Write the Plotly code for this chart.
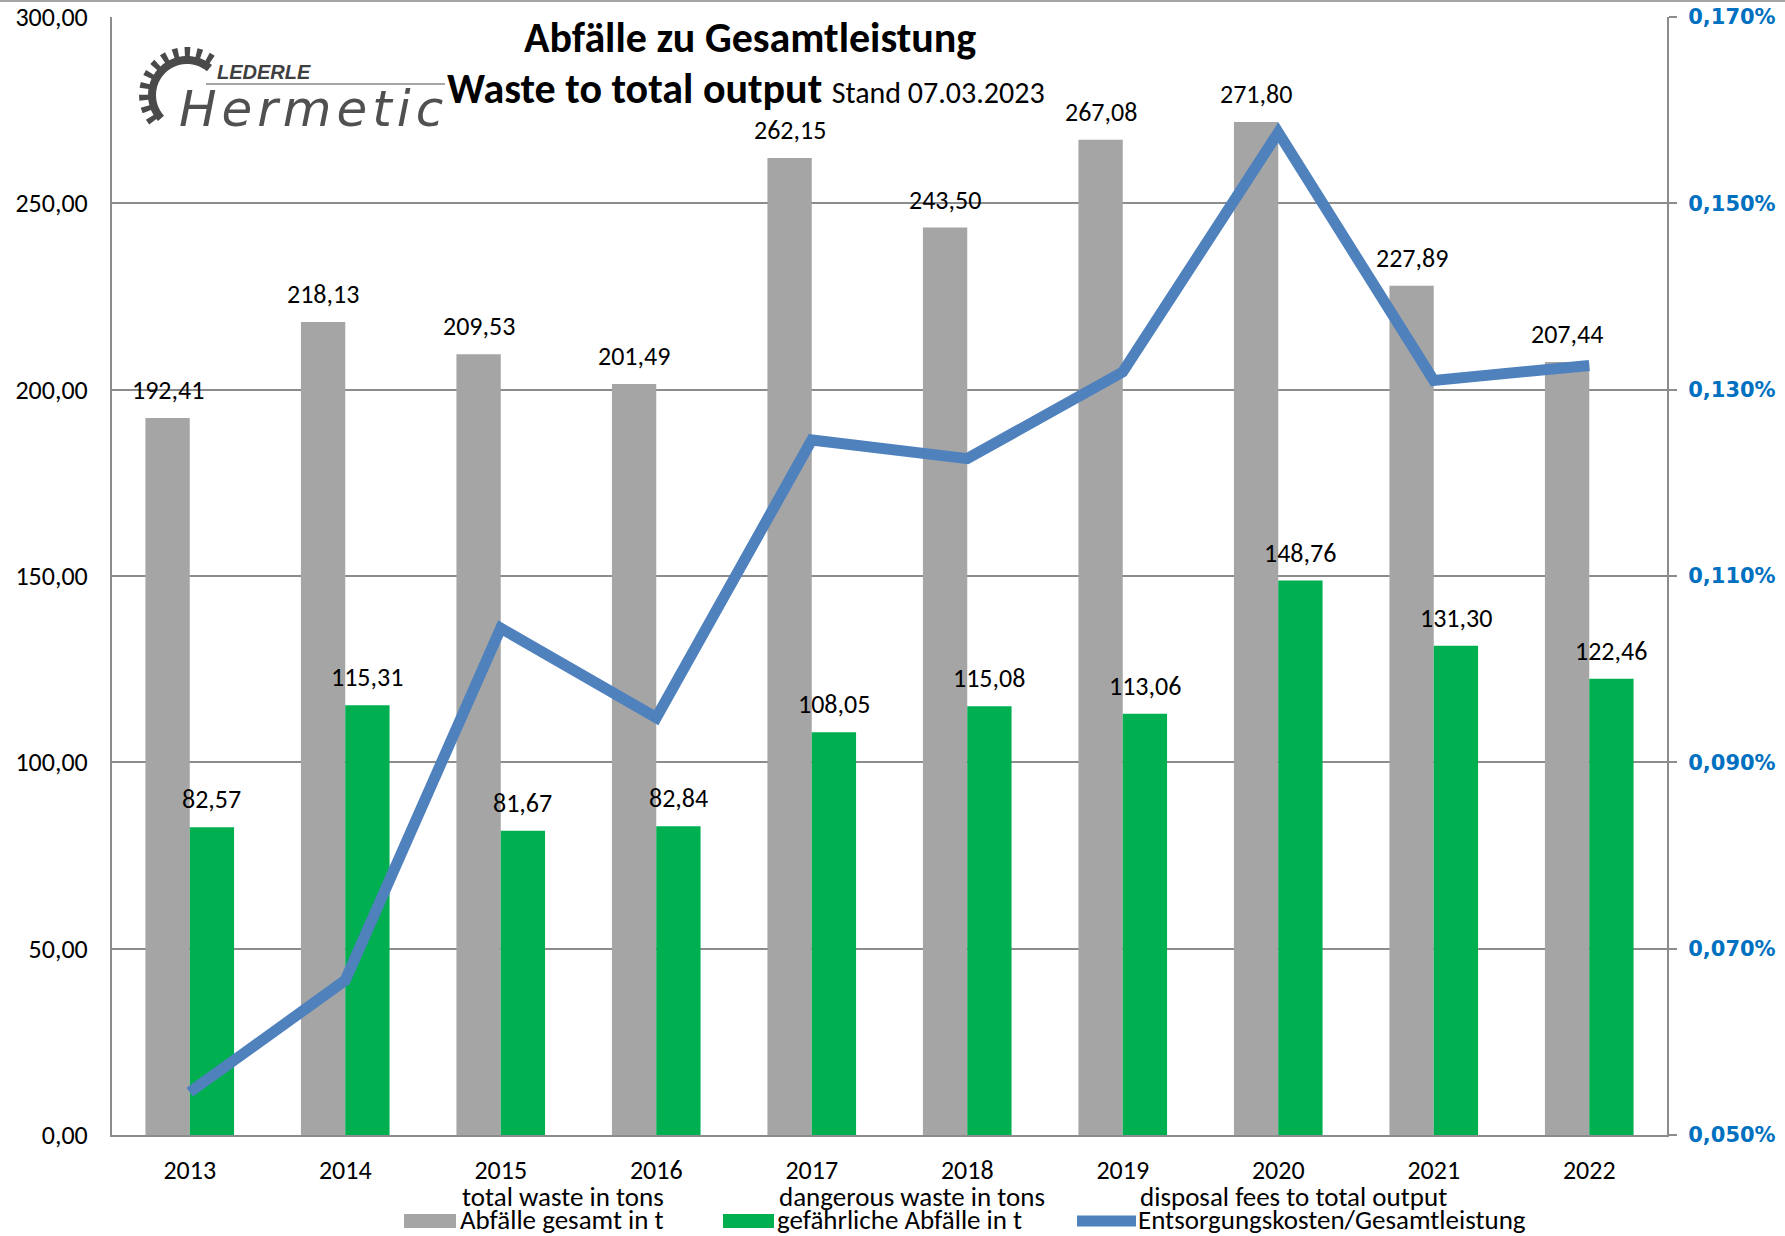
import numpy as np
import plotly.graph_objects as go

years = ["2013", "2014", "2015", "2016", "2017", "2018", "2019", "2020", "2021", "2022"]
total_waste = [192.41, 218.13, 209.53, 201.49, 262.15, 243.50, 267.08, 271.80, 227.89, 207.44]
dangerous_waste = [82.57, 115.31, 81.67, 82.84, 108.05, 115.08, 113.06, 148.76, 131.30, 122.46]
fees_ratio_pct = [0.0546, 0.0666, 0.1044, 0.0948, 0.1246, 0.1226, 0.1319, 0.1576, 0.1310, 0.1326]

name_total = "Abfälle gesamt in t"
name_danger = "gefährliche Abfälle in t"
name_fees = "Entsorgungskosten/Gesamtleistung"
sub_total = "total waste in tons"
sub_danger = "dangerous waste in tons"
sub_fees = "disposal fees to total output"

W, H = 1785, 1236
ML, MR, MT, MB = 112, 118, 17, 101
PW, PH = W - ML - MR, H - MT - MB

def px(x):
    return (x - ML) / PW

def py(y):
    return (H - MB - y) / PH

GREY = "#A5A5A5"
GREEN = "#00B050"
BLUE = "#4F81BD"
GRID = "#8C8C8C"
FONT = "Carlito, Lato, sans-serif"

fig = go.Figure()
fig.add_trace(go.Bar(x=years, y=total_waste, name=name_total, marker_color=GREY,
                     marker_line_width=0, showlegend=False))
fig.add_trace(go.Bar(x=years, y=dangerous_waste, name=name_danger, marker_color=GREEN,
                     marker_line_width=0, showlegend=False))
fig.add_trace(go.Scatter(x=years, y=fees_ratio_pct, name=name_fees, yaxis="y2",
                         mode="lines", line=dict(color=BLUE, width=11),
                         showlegend=False))

bargap = 0.43
cat_w = PW / len(years)
off = cat_w * (1 - bargap) / 4

annotations = []
for i, v in enumerate(total_waste):
    annotations.append(dict(x=i, y=v, xref="x", yref="y", text=f"{v:.2f}".replace(".", ","),
                            showarrow=False, xshift=-off, yshift=10, yanchor="bottom",
                            font=dict(family=FONT, size=26, color="#000000")))
for i, v in enumerate(dangerous_waste):
    annotations.append(dict(x=i, y=v, xref="x", yref="y", text=f"{v:.2f}".replace(".", ","),
                            showarrow=False, xshift=off, yshift=10, yanchor="bottom",
                            font=dict(family=FONT, size=26, color="#000000")))

# titles
annotations.append(dict(x=px(750), y=py(37), xref="paper", yref="paper",
                        text="<b>Abfälle zu Gesamtleistung</b>", showarrow=False,
                        xanchor="center", yanchor="middle",
                        font=dict(family=FONT, size=42, color="#000000")))
annotations.append(dict(x=px(445), y=py(89), xref="paper", yref="paper",
                        text="<b>Waste to total output</b> <span style='font-size:30px'>Stand 07.03.2023</span>",
                        showarrow=False, xanchor="left", yanchor="middle",
                        font=dict(family=FONT, size=42, color="#000000")))

# logo text
annotations.append(dict(x=px(216), y=py(72), xref="paper", yref="paper",
                        text="<b><i>LEDERLE</i></b>", showarrow=False,
                        xanchor="left", yanchor="middle", borderpad=0,
                        font=dict(family="Liberation Sans, sans-serif", size=20, color="#3F3F3F")))
hs = "\u200a"
annotations.append(dict(x=px(178), y=py(109), xref="paper", yref="paper",
                        text="<i>" + hs.join("Hermetic") + "</i>", showarrow=False,
                        xanchor="left", yanchor="middle", borderpad=0,
                        font=dict(family="DejaVu Sans, sans-serif", size=50, color="#505050")))

# legend (manual)
leg = [
    (404, 456, GREY, 14, sub_total, name_total, 461),
    (723, 774, GREEN, 14, sub_danger, name_danger, 778),
    (1077, 1136, BLUE, 11, sub_fees, name_fees, 1139),
]
shapes = []
for x0, x1, col, hgt, sub, nm, tx in leg:
    shapes.append(dict(type="rect", xref="paper", yref="paper",
                       x0=px(x0), x1=px(x1), y0=py(1221 + hgt / 2), y1=py(1221 - hgt / 2),
                       fillcolor=col, line_width=0))
    annotations.append(dict(x=px(tx), y=py(1196), xref="paper", yref="paper", text=sub,
                            showarrow=False, xanchor="left", yanchor="middle", borderpad=0,
                            font=dict(family=FONT, size=27, color="#000000")))
    annotations.append(dict(x=px(tx - 2), y=py(1219), xref="paper", yref="paper", text=nm,
                            showarrow=False, xanchor="left", yanchor="middle", borderpad=0,
                            font=dict(family=FONT, size=27, color="#000000")))

# gear logo shape
cx, cy = 187, 95
r_in, r_out, r_tip = 31, 39, 48
a0, a1 = np.deg2rad(50), np.deg2rad(222)
n_teeth = 11
pts = []
pitch = (a1 - a0) / n_teeth
for k in range(n_teeth):
    s = a0 + k * pitch
    for frac, r in [(0.0, r_out), (0.3, r_out), (0.3, r_tip), (0.75, r_tip), (0.75, r_out), (1.0, r_out)]:
        a = s + frac * pitch
        pts.append((cx + r * np.cos(a), cy - r * np.sin(a)))
for a in np.linspace(a1, a0, 30):
    pts.append((cx + r_in * np.cos(a), cy - r_in * np.sin(a)))
path = "M " + " L ".join(f"{px(x):.5f},{py(y):.5f}" for x, y in pts) + " Z"
shapes.append(dict(type="path", xref="paper", yref="paper", path=path,
                   fillcolor="#4A4A4A", line_width=0))
# logo rule line
shapes.append(dict(type="line", xref="paper", yref="paper", x0=px(206), x1=px(445),
                   y0=py(84), y1=py(84), line=dict(color="#8A8A8A", width=1.5)))
# chart border top line
shapes.append(dict(type="line", xref="paper", yref="paper", x0=px(0), x1=px(W),
                   y0=py(1), y1=py(1), line=dict(color="#A6A6A6", width=2)))

fig.update_layout(
    width=W, height=H,
    margin=dict(l=ML, r=MR, t=MT, b=MB, pad=0, autoexpand=False),
    paper_bgcolor="white", plot_bgcolor="white",
    separators=",.",
    barmode="group", bargap=bargap, bargroupgap=0,
    showlegend=False,
    font=dict(family=FONT, size=22, color="#000000"),
    xaxis=dict(type="category", range=[-0.5, len(years) - 0.5], automargin=False,
               showline=True, linecolor=GRID, linewidth=2,
               ticks="", showgrid=False, tickfont=dict(family=FONT, size=26),
               ticklabelstandoff=11),
    yaxis=dict(range=[0, 300], dtick=50, tickformat=".2f", showgrid=True, automargin=False,
               gridcolor=GRID, gridwidth=2, showline=True, linecolor=GRID, linewidth=2,
               ticks="", tickfont=dict(family=FONT, size=26), ticklabelstandoff=17,
               zeroline=False),
    yaxis2=dict(range=[0.05, 0.17], dtick=0.02, tick0=0.05, tickformat=".3f", ticksuffix="%",
                overlaying="y", side="right", showgrid=False, showline=True, automargin=False,
                linecolor=GRID, linewidth=2, ticks="outside", ticklen=8, tickwidth=2,
                tickcolor=GRID, tickfont=dict(family="DejaVu Sans, sans-serif", size=21,
                                              color="#0070C0", weight="bold"),
                ticklabelstandoff=7, zeroline=False),
    annotations=annotations,
    shapes=shapes,
)

fig.write_html("out.html")
